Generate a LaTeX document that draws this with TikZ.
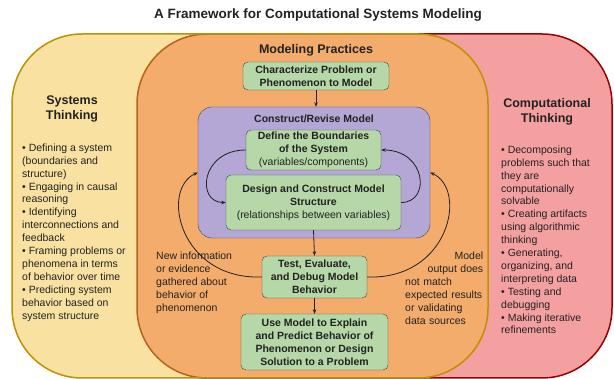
\documentclass[tikz,border=0pt]{standalone}
\usepackage{fontspec}
\setmainfont{Liberation Sans}
\usetikzlibrary{arrows.meta}
\definecolor{sysyellow}{HTML}{F9E1A1}
\definecolor{sysline}{HTML}{BF9000}
\definecolor{comred}{HTML}{F4A0A0}
\definecolor{comline}{HTML}{990000}
\definecolor{modorange}{HTML}{F3AC6B}
\definecolor{modline}{HTML}{B8621E}
\definecolor{revpurple}{HTML}{B4A7D6}
\definecolor{stepgreen}{HTML}{B6D7A8}
\definecolor{ink}{HTML}{222222}

\begin{document}
\begin{tikzpicture}[x=1pt,y=-1pt,
  every node/.style={text=ink,inner sep=0pt,font=\fontsize{10.5}{12.9}\selectfont},
  heading/.style={align=center,font=\fontsize{12.5}{15}\selectfont\bfseries},
  stepbox/.style={draw=ink!85,fill=stepgreen,rounded corners=5,align=center,
    font=\fontsize{10.5}{12.9}\selectfont\bfseries},
  flow/.style={draw=ink,line width=0.8,-{Stealth[length=4.5pt,width=3.5pt]}}]
  \useasboundingbox (0,0) rectangle (614,379);
  \fill[comred,rounded corners=70] (137,34) rectangle (612,378);
  \draw[comline,line width=1.5,rounded corners=70] (137,34) rectangle (612,378);
  \fill[sysyellow,rounded corners=70] (12,34) rectangle (488,378);
  \begin{scope}
    \clip[rounded corners=70] (12,34) rectangle (488,378);
    \fill[modorange,rounded corners=70] (137,34) rectangle (612,378);
    \draw[modline,line width=1.5,rounded corners=70] (137,34) rectangle (612,378);
  \end{scope}
  \draw[sysline,line width=1.5,rounded corners=70] (12,34) rectangle (488,378);

  \node[anchor=base,font=\fontsize{13.5}{16}\selectfont\bfseries] (title) at (318,19)
    {A Framework for Computational Systems Modeling};
  \node[heading,anchor=base] (practices) at (316,54) {Modeling Practices};
  \node[heading,anchor=north] (systems) at (72,95.5) {Systems\\Thinking};
  \node[heading,anchor=north] (computational) at (547,98.5) {Computational\\Thinking};
  \node[anchor=north west,align=left] (systemslist) at (22,143.5)
    {• Defining a system\\(boundaries and\\structure)\\• Engaging in causal\\reasoning\\
     • Identifying\\interconnections and\\feedback\\• Framing problems or\\
     phenomena in terms\\of behavior over time\\• Predicting system\\
     behavior based on\\system structure};
  \node[anchor=north west,align=left] (computationallist) at (501,145.5)
    {• Decomposing\\problems such that\\they are\\computationally\\solvable\\
     • Creating artifacts\\using algorithmic\\thinking\\• Generating,\\
     organizing, and\\interpreting data\\• Testing and\\debugging\\
     • Making iterative\\refinements};

  \node[draw=ink!85,fill=revpurple,rounded corners=14,minimum width=232,
    minimum height=131] (revise) at (314,172.5) {};
  \node[anchor=base,font=\fontsize{10.5}{12.9}\selectfont\bfseries] (revisetitle)
    at (314,123) {Construct/Revise Model};
  \node[stepbox,minimum width=146,minimum height=28] (characterize) at (316,76)
    {Characterize Problem or\\Phenomenon to Model};
  \node[stepbox,minimum width=135,minimum height=40] (boundaries) at (313.5,150)
    {Define the Boundaries\\of the System\\\mdseries(variables/components)};
  \node[stepbox,minimum width=175,minimum height=55] (structure) at (313.5,202.5)
    {Design and Construct Model\\Structure\\\mdseries(relationships between variables)};
  \node[stepbox,minimum width=105,minimum height=42] (test) at (314.5,277)
    {Test, Evaluate,\\and Debug Model\\Behavior};
  \node[stepbox,minimum width=147,minimum height=56] (use) at (314.5,342)
    {Use Model to Explain\\and Predict Behavior of\\Phenomenon or Design\\Solution to a Problem};

  \node[anchor=north west,align=left] (newinfo) at (156,252)
    {New information\\or evidence\\gathered about\\behavior of\\phenomenon};
  \node[anchor=north west,text width=78,align=left] (mismatch) at (405,252)
    {\hskip0pt plus1filll Model\\\hskip0pt plus1filll output does\\not match\\
     expected results\\or validating\\data sources};

  \draw[flow] (characterize.south) -- (characterize.south |- revise.north);
  \draw[flow] (structure.south) -- (test.north);
  \draw[flow] (test.south) -- (use.north);
  \draw[flow] (boundaries.west) .. controls +(-45,0) and +(-30,0) .. (structure.west);
  \draw[flow] (structure.east) .. controls +(30,0) and +(45,0) .. (boundaries.east);
  \draw[flow] (test.west) .. controls +(-82,3) and +(-38,17) .. (revise.west);
  \draw[flow] (test.east) .. controls +(82,3) and +(38,17) .. (revise.east);
\end{tikzpicture}
\end{document}
